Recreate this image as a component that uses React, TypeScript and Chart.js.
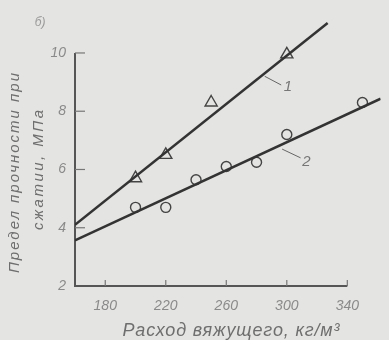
import React, { useEffect, useRef } from 'react';
import { Chart, registerables } from 'chart.js';
Chart.register(...registerables);

// ---- data ----
const xTicks = [180, 220, 260, 300, 340];
const yTicks = [2, 4, 6, 8, 10];
const triX = [200, 220, 250, 300];
const triY = [5.7, 6.5, 8.3, 9.95];
const circX = [200, 220, 240, 260, 280, 300, 350];
const circY = [4.7, 4.7, 5.65, 6.1, 6.25, 7.2, 8.3];
const line1X = [160, 327];
const line1Y = [4.1, 11.03];
const line2X = [160, 362];
const line2Y = [3.57, 8.43];
const curveLabels = ['1', '2'];
const labelX = [300.8, 313];
const labelY = [8.83, 6.27];
const leaderFromX = [285.4, 296.9];
const leaderFromY = [9.2, 6.7];
const leaderToX = [296.3, 309.1];
const leaderToY = [8.9, 6.4];
const xRange = [160, 362];
const yRange = [2, 11.53];
const xAxisEnd = 340;
const yAxisEnd = 10;
const xTitle = 'Расход вяжущего, кг/м³';
const yTitle = ['Предел прочности при', 'сжатии, МПа'];
const panelLabel = 'б)';

const zip = (xs: number[], ys: number[]) => xs.map((x, i) => ({ x, y: ys[i] }));

function fitText(ctx: CanvasRenderingContext2D, text: string, cx: number, cy: number, width: number) {
  (ctx as any).letterSpacing = '0px';
  const w = ctx.measureText(text).width;
  const n = Array.from(text).length;
  const ls = n > 1 ? (width - w) / (n - 1) : 0;
  (ctx as any).letterSpacing = ls + 'px';
  ctx.textAlign = 'left';
  ctx.fillText(text, cx - width / 2, cy);
  (ctx as any).letterSpacing = '0px';
}

const decor = {
  id: 'decor',
  beforeDraw(chart: any) {
    const ctx = chart.ctx as CanvasRenderingContext2D;
    ctx.save();
    ctx.fillStyle = '#e4e4e2';
    ctx.fillRect(0, 0, chart.width, chart.height);
    ctx.restore();
  },
  beforeDatasetsDraw(chart: any) {
    const ctx = chart.ctx as CanvasRenderingContext2D;
    const xs = chart.scales.x;
    const ys = chart.scales.y;
    const x0 = xs.getPixelForValue(xRange[0]);
    const y0 = ys.getPixelForValue(yRange[0]);
    ctx.save();
    ctx.strokeStyle = '#555';
    ctx.lineWidth = 2;
    ctx.beginPath();
    ctx.moveTo(x0, ys.getPixelForValue(yAxisEnd));
    ctx.lineTo(x0, y0);
    ctx.lineTo(xs.getPixelForValue(xAxisEnd), y0);
    ctx.stroke();
    ctx.lineWidth = 1.2;
    ctx.strokeStyle = '#777';
    yTicks.forEach((v) => {
      if (v === yRange[0]) return;
      const py = ys.getPixelForValue(v);
      ctx.beginPath();
      ctx.moveTo(x0, py);
      ctx.lineTo(x0 + 10, py);
      ctx.stroke();
    });
    xTicks.forEach((v) => {
      const px = xs.getPixelForValue(v);
      ctx.beginPath();
      ctx.moveTo(px, y0);
      ctx.lineTo(px, y0 - 6);
      ctx.stroke();
    });
    ctx.restore();
  },
  afterDraw(chart: any) {
    const ctx = chart.ctx as CanvasRenderingContext2D;
    const xs = chart.scales.x;
    const ys = chart.scales.y;
    const x0 = xs.getPixelForValue(xRange[0]);
    const y0 = ys.getPixelForValue(yRange[0]);
    ctx.save();
    // tick labels
    ctx.fillStyle = '#8a8a8a';
    ctx.font = 'italic 14px "Liberation Sans"';
    ctx.textBaseline = 'middle';
    ctx.textAlign = 'right';
    yTicks.forEach((v) => {
      ctx.fillText(String(v), x0 - 9, ys.getPixelForValue(v));
    });
    ctx.textAlign = 'center';
    xTicks.forEach((v) => {
      ctx.fillText(String(v), xs.getPixelForValue(v), y0 + 20);
    });
    // curve labels and leaders
    ctx.strokeStyle = '#666';
    ctx.lineWidth = 1;
    ctx.fillStyle = '#777';
    ctx.font = 'italic 15px "Liberation Sans"';
    curveLabels.forEach((t, i) => {
      ctx.beginPath();
      ctx.moveTo(xs.getPixelForValue(leaderFromX[i]), ys.getPixelForValue(leaderFromY[i]));
      ctx.lineTo(xs.getPixelForValue(leaderToX[i]), ys.getPixelForValue(leaderToY[i]));
      ctx.stroke();
      ctx.textAlign = 'center';
      ctx.fillText(t, xs.getPixelForValue(labelX[i]), ys.getPixelForValue(labelY[i]));
    });
    // titles
    ctx.fillStyle = '#6e6e6e';
    ctx.font = 'italic 18px "Liberation Sans"';
    ctx.textBaseline = 'alphabetic';
    fitText(ctx, xTitle, 231, 336, 217);
    ctx.font = 'italic 15px "Liberation Sans"';
    ctx.save();
    ctx.translate(15, 173);
    ctx.rotate(-Math.PI / 2);
    ctx.textBaseline = 'middle';
    fitText(ctx, yTitle[0], 0, 0, 200);
    ctx.restore();
    ctx.save();
    ctx.translate(39, 170);
    ctx.rotate(-Math.PI / 2);
    ctx.textBaseline = 'middle';
    fitText(ctx, yTitle[1], 0, 0, 120);
    ctx.restore();
    // panel label
    ctx.fillStyle = '#9a9a9a';
    ctx.font = 'italic 12px "Liberation Sans"';
    ctx.textAlign = 'center';
    ctx.textBaseline = 'middle';
    ctx.fillText(panelLabel, 40, 23);
    ctx.restore();
  },
};

export default function App() {
  const ref = useRef<HTMLCanvasElement | null>(null);
  useEffect(() => {
    if (!ref.current) return;
    const chart = new Chart(ref.current, {
      type: 'scatter',
      data: {
        datasets: [
          {
            type: 'line',
            data: zip(line1X, line1Y),
            borderColor: '#333',
            borderWidth: 2.5,
            pointRadius: 0,
            fill: false,
          } as any,
          {
            type: 'line',
            data: zip(line2X, line2Y),
            borderColor: '#333',
            borderWidth: 2.5,
            pointRadius: 0,
            fill: false,
          } as any,
          {
            data: zip(triX, triY),
            pointStyle: 'triangle',
            pointRadius: 7,
            borderWidth: 1.4,
            borderColor: '#444',
            backgroundColor: 'rgba(0,0,0,0)',
          },
          {
            data: zip(circX, circY),
            pointStyle: 'circle',
            pointRadius: 5,
            borderWidth: 1.4,
            borderColor: '#444',
            backgroundColor: 'rgba(0,0,0,0)',
          },
        ],
      },
      options: {
        animation: false,
        responsive: false,
        devicePixelRatio: 1,
        layout: { padding: { left: 75, right: 0, top: 0, bottom: 54 } },
        scales: {
          x: { type: 'linear', min: xRange[0], max: xRange[1], display: false },
          y: { type: 'linear', min: yRange[0], max: yRange[1], display: false },
        },
        plugins: { legend: { display: false }, tooltip: { enabled: false } },
      },
      plugins: [decor],
    });
    return () => chart.destroy();
  }, []);
  return (
    <div style={{ position: 'fixed', left: 0, top: 0, width: 389, height: 340 }}>
      <canvas ref={ref} width={389} height={340} />
    </div>
  );
}
